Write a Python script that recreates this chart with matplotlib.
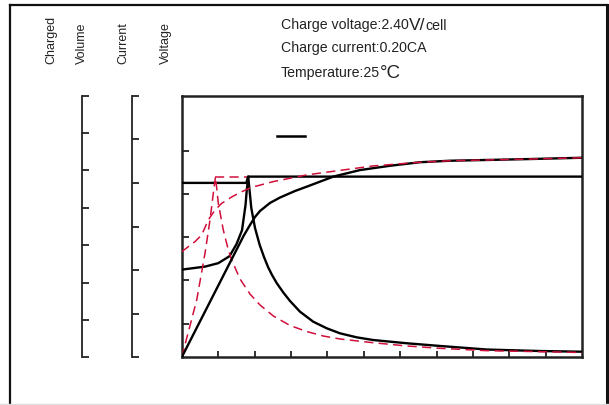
import matplotlib
matplotlib.use("Agg")
import matplotlib.pyplot as plt
from matplotlib.lines import Line2D

plt.rcParams['font.family'] = ['Liberation Sans', 'DejaVu Sans']

# ---------------- data ----------------
# x: charge time (arbitrary units, 11 divisions)
x_ticks = list(range(1, 11))

# voltage axis (main axis)
volt_ticks = [1.8, 1.9, 2.0, 2.1, 2.2]
volt_lim = (1.7224, 2.327)
blk_volt_x = [0.0, 0.640, 1.005, 1.312, 1.505, 1.656, 1.752, 1.787, 1.826, 11.0]
blk_volt_y = [1.925, 1.932, 1.940, 1.956, 1.984, 2.016, 2.074, 2.109, 2.140, 2.140]
red_volt_x = [0.928, 1.826]
red_volt_y = [2.140, 2.140]

# current axis (CA)
cur_ticks = [0.0, 0.05, 0.10, 0.15, 0.20, 0.25, 0.30]
cur_lim = (0.0, 0.30)
blk_cur_x = [0.0, 1.774, 1.826, 1.911, 2.013, 2.142, 2.260, 2.370, 2.480, 2.608,
             2.790, 2.974, 3.248, 3.613, 3.981, 4.347, 4.805, 5.261, 6.178, 7.092,
             8.383, 9.838, 11.0]
blk_cur_y = [0.200, 0.200, 0.2073, 0.1712, 0.1483, 0.1288, 0.1150, 0.1036, 0.0944, 0.0852,
             0.0743, 0.0646, 0.0523, 0.0408, 0.0333, 0.0275, 0.0229, 0.0198, 0.0161, 0.0130,
             0.0089, 0.0072, 0.0064]
red_cur_x = [0.0, 0.412, 0.640, 0.777, 0.868, 0.928, 1.005, 1.142, 1.280, 1.373,
             1.601, 1.875, 2.150, 2.515, 2.973, 3.432, 3.888, 4.347, 5.261, 6.178,
             7.092, 8.375, 10.022, 11.0]
red_cur_y = [0.0, 0.0657, 0.1193, 0.1575, 0.1881, 0.2071, 0.1766, 0.1460, 0.1231, 0.1116,
             0.0898, 0.0726, 0.0600, 0.0474, 0.0365, 0.0296, 0.0244, 0.0210, 0.0167, 0.0130,
             0.0103, 0.0076, 0.0063, 0.0055]

# charged volume axis (%)
cv_ticks = [0, 20, 40, 60, 80, 100, 120, 140]
cv_lim = (0, 140)
blk_cv_x = [0.0, 1.700, 1.875, 2.013, 2.150, 2.424, 2.699, 3.111, 3.432, 4.163, 4.896,
            5.719, 6.543, 7.367, 8.374, 9.563, 11.0]
blk_cv_y = [0.0, 65.0, 70.8, 75.1, 78.3, 82.6, 85.5, 89.0, 91.3, 96.7, 100.2,
            102.5, 104.4, 105.2, 105.6, 106.1, 106.8]
red_cv_x = [0.0, 0.365, 0.549, 0.730, 0.914, 1.098, 1.373, 1.601, 1.911, 2.507,
            3.432, 4.072, 5.253, 6.543, 7.367, 8.374, 9.563, 11.0]
red_cv_y = [56.5, 61.9, 65.5, 73.5, 78.8, 82.4, 85.8, 88.2, 90.9, 94.0,
            97.6, 99.3, 102.4, 104.4, 105.2, 105.6, 106.1, 106.8]

axis_titles = ["Charged", "Volume", "Current", "Voltage"]
info_lines = ["Charge voltage:2.40", "V/", "cell", "Charge current:0.20CA", "Temperature:25", "\u00b0C"]

# ---------------- figure ----------------
W, H = 609, 405
fig = plt.figure(figsize=(W / 100, H / 100), dpi=100)
fig.patch.set_facecolor('white')

def fx(px):
    return px / W

def fy(py):
    return 1 - py / H

L, R, T, B = 181.7, 582.3, 95.7, 357.3
ax = fig.add_axes([fx(L), fy(B), fx(R - L), (B - T) / H])
ax.set_xlim(0, 11)
ax.set_ylim(*volt_lim)
ax.set_xticks(x_ticks)
ax.set_yticks(volt_ticks)
ax.tick_params(axis='both', direction='in', labelbottom=False, labelleft=False,
               width=1.3, color='#222222')
ax.tick_params(axis='x', length=4)
ax.tick_params(axis='y', length=5)
for s in ax.spines.values():
    s.set_linewidth(1.8)
    s.set_color('#222222')

BLK = '#000000'
RED = '#D0103A'
blw = 1.7
rlw = 1.1
dash = (0, (6, 3.5))

ax.plot(red_volt_x, red_volt_y, color=RED, lw=rlw, linestyle=dash, zorder=2)
ax.plot(blk_volt_x, blk_volt_y, color=BLK, lw=blw, zorder=3)

def side_axis(offset_px, lim, ticks):
    a = ax.twinx()
    a.set_ylim(*lim)
    a.set_yticks(ticks)
    for k in ('right', 'top', 'bottom'):
        a.spines[k].set_visible(False)
    a.spines['left'].set_visible(True)
    a.spines['left'].set_position(('axes', (offset_px - L) / (R - L)))
    a.spines['left'].set_linewidth(1.3)
    a.spines['left'].set_color('#222222')
    a.yaxis.set_ticks_position('left')
    a.tick_params(axis='y', direction='in', length=5, width=1.3, color='#222222',
                  labelleft=False, labelright=False)
    a.patch.set_visible(False)
    return a

ax_cur = side_axis(131.7, cur_lim, cur_ticks)
ax_cur.plot(blk_cur_x, blk_cur_y, color=BLK, lw=blw, zorder=3)
ax_cur.plot(red_cur_x, red_cur_y, color=RED, lw=rlw, linestyle=dash, zorder=4)

ax_cv = side_axis(81.7, cv_lim, cv_ticks)
ax_cv.plot(blk_cv_x, blk_cv_y, color=BLK, lw=blw, zorder=3)
ax_cv.plot(red_cv_x, red_cv_y, color=RED, lw=rlw, linestyle=dash, zorder=4)

# legend stub line
ax.add_line(Line2D([0.238, 0.307], [0.846, 0.846], transform=ax.transAxes,
                   color=BLK, lw=1.8))

# axis titles (rotated)
for t, px in zip(axis_titles, [51, 82, 123, 166]):
    fig.text(fx(px), fy(63.5), t, rotation=90, ha='center', va='bottom',
             fontsize=9.0, color='#222222')

# info text
renderer = fig.canvas.get_renderer()

def chain(parts, x0, ybase):
    x = x0
    for txt, size in parts:
        t = fig.text(fx(x), fy(ybase), txt, fontsize=size, ha='left', va='baseline',
                     color='#222222')
        bb = t.get_window_extent(renderer=renderer)
        x += bb.width

chain([(info_lines[0], 10.2), (info_lines[1], 12.5), (info_lines[2], 10.2)], 280.7, 29.5)
chain([(info_lines[3], 10.2)], 280.7, 51.8)
chain([(info_lines[4], 10.2), (info_lines[5], 13.5)], 280.7, 77.5)

# outer frame
fig.add_artist(Line2D([fx(10), fx(10)], [fy(5), fy(405)], transform=fig.transFigure, color='#111111', lw=1.6))
fig.add_artist(Line2D([fx(10), fx(606.5)], [fy(5), fy(5)], transform=fig.transFigure, color='#111111', lw=1.6))
fig.add_artist(Line2D([fx(606.5), fx(606.5)], [fy(5), fy(405)], transform=fig.transFigure, color='#111111', lw=2.2))
fig.add_artist(Line2D([fx(0), fx(609)], [fy(403.5), fy(403.5)], transform=fig.transFigure, color='#dddddd', lw=1.0))

fig.savefig('out.png', dpi=100)
